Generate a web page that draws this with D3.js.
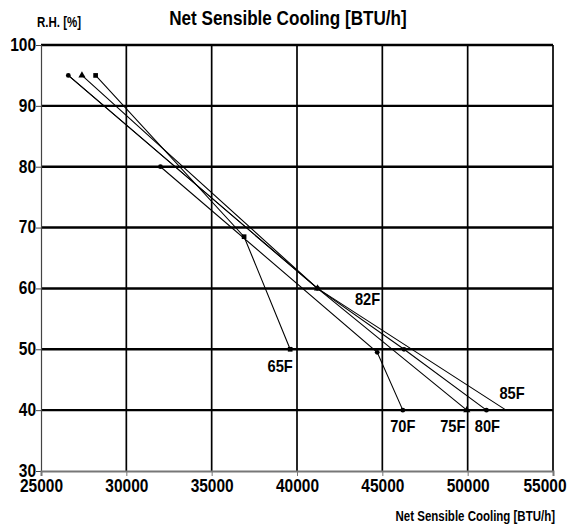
<!DOCTYPE html>
<html>
<head>
<meta charset="utf-8">
<script src="https://cdn.jsdelivr.net/npm/d3@7"></script>
<style>
  body { margin: 0; background: #fff; }
  text { font-family: "Liberation Sans Narrow", "Arial Narrow", "Liberation Sans", Arial, sans-serif; font-weight: bold; }
</style>
</head>
<body>
<div id="chart"></div>
<script>
// axis ticks
const xTicks = [25000, 30000, 35000, 40000, 45000, 50000, 55000];
const yTicks = [30, 40, 50, 60, 70, 80, 90, 100];

// series: [net sensible cooling BTU/h, R.H. %]
const s65F = [[28200, 95], [36900, 68.5], [39600, 50]];
const s70F = [[32000, 80], [44700, 49.5], [46200, 40]];
const s75F = [[27400, 95], [41200, 60], [49950, 40]];
const s80F = [[26600, 95], [41200, 60], [46270, 50], [51100, 40]];
const s85F = [[26600, 95], [41200, 60], [52250, 40]];

const seriesNames = ["65F", "70F", "75F", "80F", "85F"];
const seriesData = [s65F, s70F, s75F, s80F, s85F];
const seriesMarker = ["square", "circle", "triangle", "circle", "none"];

// extra label at the 60 % point
const extraLabel = {name: "82F", at: [41200, 60]};

const W = 569, H = 527;
const margin = {top: 45, right: 16, bottom: 56, left: 41};
const width = W - margin.left - margin.right;
const height = H - margin.top - margin.bottom;

// squeeze text horizontally to look like a narrow bold face
function condense(sel, k) {
    sel.each(function() {
        const len = this.getComputedTextLength();
        d3.select(this).attr("textLength", len * k).attr("lengthAdjust", "spacingAndGlyphs");
    });
}

const svg = d3.select("#chart").append("svg")
    .attr("width", W)
    .attr("height", H);

const g = svg.append("g")
    .attr("transform", "translate(" + margin.left + "," + margin.top + ")");

const x = d3.scaleLinear().domain([25000, 55000]).range([0, width]);
const y = d3.scaleLinear().domain([30, 100]).range([height, 0]);

// grid
g.append("g").selectAll("line")
    .data(yTicks.filter(d => d > 30))
    .enter().append("line")
    .attr("x1", 0).attr("x2", width)
    .attr("y1", d => y(d)).attr("y2", d => y(d))
    .attr("stroke", "#000").attr("stroke-width", 2.4);

g.append("g").selectAll("line")
    .data(xTicks.filter(d => d > 25000))
    .enter().append("line")
    .attr("x1", d => x(d)).attr("x2", d => x(d))
    .attr("y1", 0).attr("y2", height)
    .attr("stroke", "#000").attr("stroke-width", 1.7);

// axes
const yAxis = d3.axisLeft(y).tickValues(yTicks).tickSize(5).tickFormat(d3.format("d"));
const xAxis = d3.axisBottom(x).tickValues(xTicks).tickSize(5).tickFormat(d3.format("d"));

const ya = g.append("g").call(yAxis);
ya.select(".domain").attr("stroke", "#444").attr("stroke-width", 1.2);
ya.selectAll(".tick line").attr("stroke", "#444");
ya.selectAll(".tick text").attr("x", -5).attr("dy", "0.3em")
    .style("font-size", "18px").attr("fill", "#000")
    .call(condense, 0.86);

const xa = g.append("g").attr("transform", "translate(0," + height + ")").call(xAxis);
xa.select(".domain").attr("stroke", "#777").attr("stroke-width", 2);
xa.selectAll(".tick line").attr("stroke", "#777");
xa.selectAll(".tick text").attr("y", 8)
    .style("font-size", "18px").attr("fill", "#000")
    .call(condense, 0.86);
// keep the last label inside the window
xa.selectAll(".tick text").filter(d => d === 55000)
    .attr("text-anchor", "end").attr("x", 13);

// lines
const line = d3.line().x(d => x(d[0])).y(d => y(d[1]));

g.append("g").selectAll("path")
    .data(seriesData)
    .enter().append("path")
    .attr("d", d => line(d))
    .attr("fill", "none")
    .attr("stroke", "#000")
    .attr("stroke-width", 1.1);

// markers
const sym = {
    square: d3.symbol().type(d3.symbolSquare).size(22),
    triangle: d3.symbol().type(d3.symbolTriangle).size(22),
    circle: d3.symbol().type(d3.symbolCircle).size(18)
};
seriesData.forEach((s, i) => {
    if (seriesMarker[i] === "none") return;
    g.append("g").selectAll("path")
        .data(s)
        .enter().append("path")
        .attr("transform", d => "translate(" + x(d[0]) + "," + y(d[1]) + ")")
        .attr("d", sym[seriesMarker[i]])
        .attr("fill", "#000");
});

// series labels near end points
const labelOffset = {
    "65F": [-10, 17], "70F": [0, 16], "75F": [-14, 16],
    "80F": [1, 16], "85F": [6, -17]
};
seriesData.forEach((s, i) => {
    const end = s[s.length - 1];
    const off = labelOffset[seriesNames[i]];
    g.append("text")
        .attr("x", x(end[0]) + off[0])
        .attr("y", y(end[1]) + off[1])
        .attr("text-anchor", "middle")
        .attr("dy", "0.35em")
        .style("font-size", "17px")
        .text(seriesNames[i])
        .call(condense, 0.86);
});
g.append("text")
    .attr("x", x(extraLabel.at[0]) + 50)
    .attr("y", y(extraLabel.at[1]) + 11)
    .attr("text-anchor", "middle")
    .attr("dy", "0.35em")
    .style("font-size", "17px")
    .text(extraLabel.name)
    .call(condense, 0.86);

// titles
svg.append("text")
    .attr("x", 288).attr("y", 25)
    .attr("text-anchor", "middle")
    .style("font-size", "20px")
    .text("Net Sensible Cooling [BTU/h]")
    .call(condense, 0.855);

svg.append("text")
    .attr("x", 37).attr("y", 27)
    .style("font-size", "14px")
    .text("R.H. [%]")
    .call(condense, 0.82);

svg.append("text")
    .attr("x", 555).attr("y", 521)
    .attr("text-anchor", "end")
    .style("font-size", "14px")
    .text("Net Sensible Cooling [BTU/h]")
    .call(condense, 0.82);
</script>
</body>
</html>
